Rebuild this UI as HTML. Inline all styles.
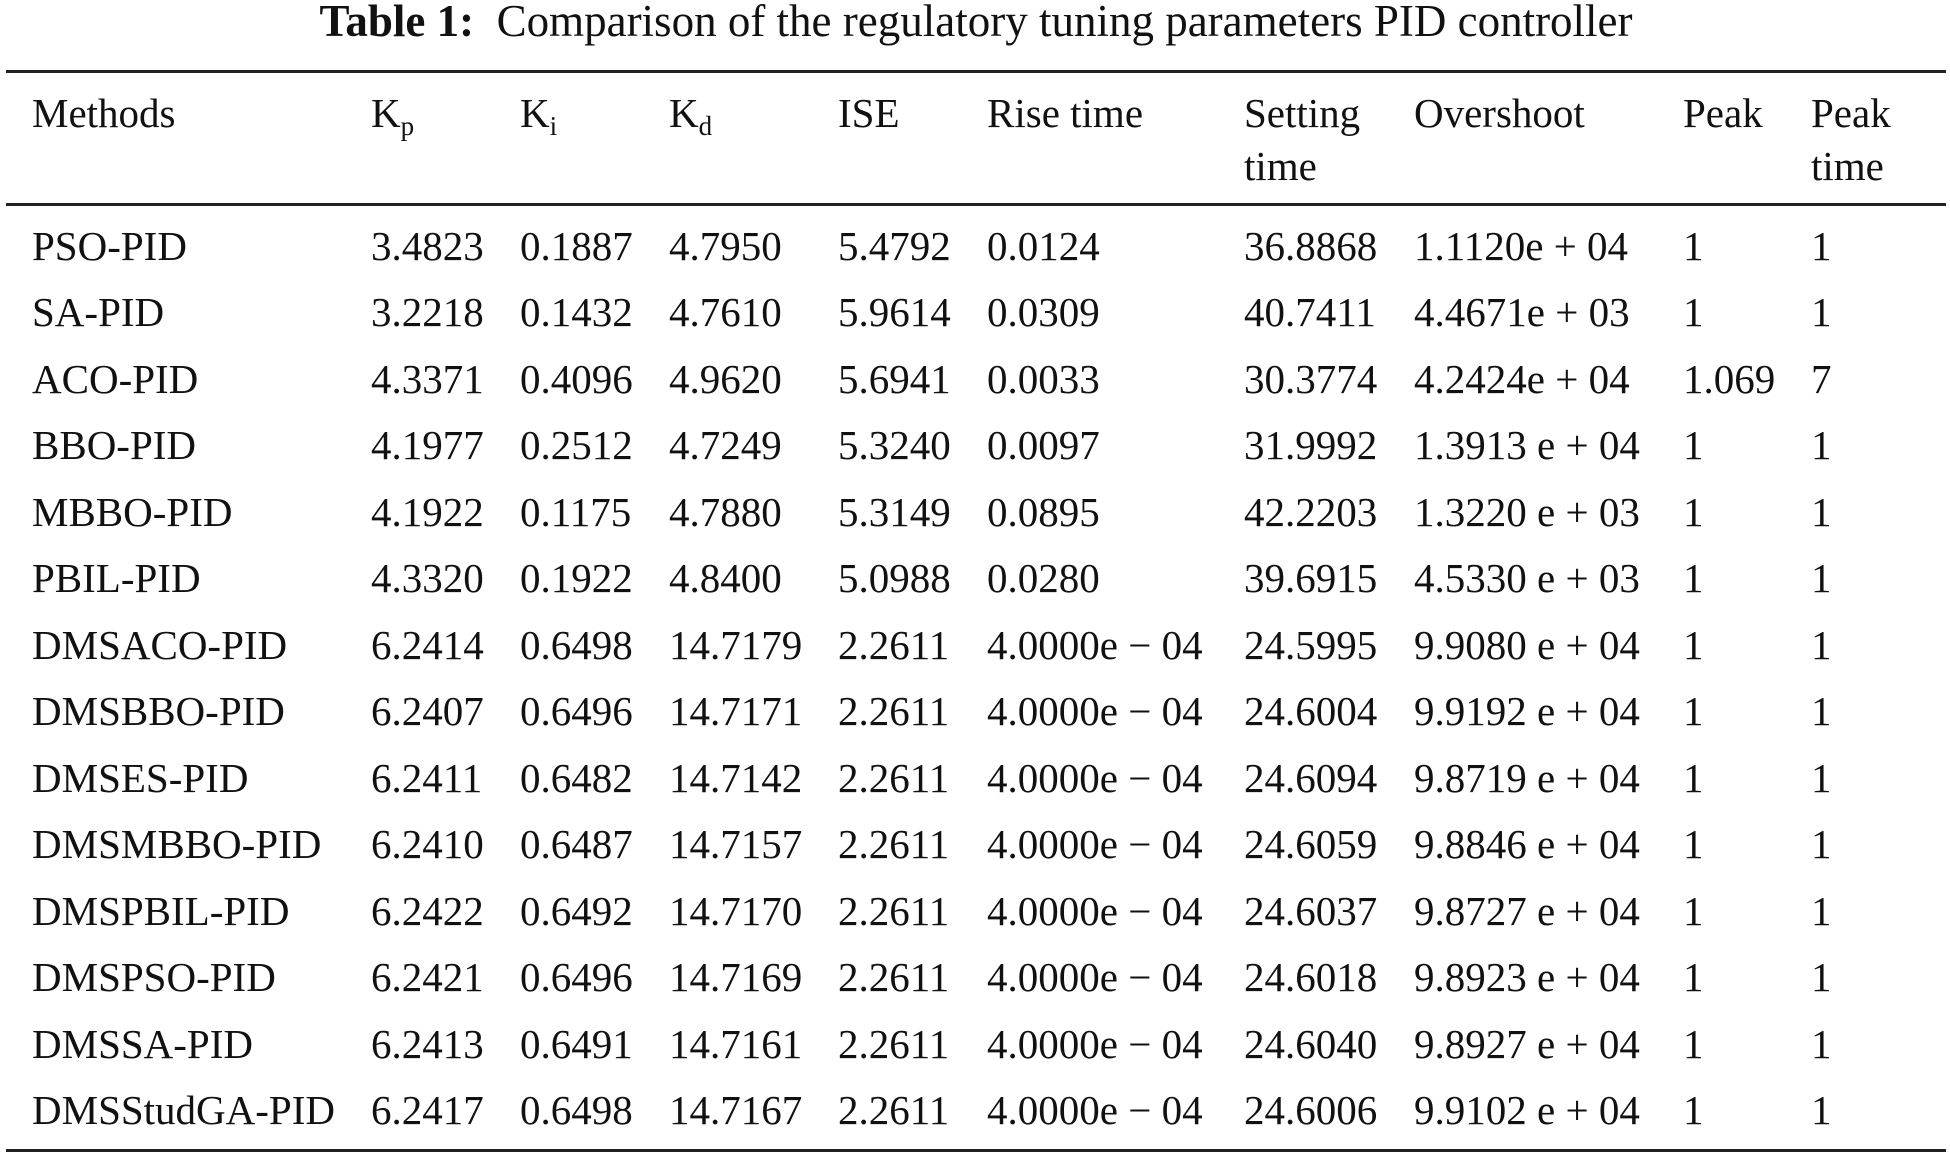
<!DOCTYPE html>
<html><head><meta charset="utf-8">
<style>
html,body{margin:0;padding:0;background:#fff;}
body{width:1950px;height:1158px;position:relative;overflow:hidden;font-family:"Liberation Serif",serif;color:#111;}
.t{position:absolute;white-space:nowrap;font-size:41px;line-height:40px;}
.r{position:absolute;left:6px;width:1940px;height:3px;background:#222;}
sub{font-size:27px;vertical-align:-8px;line-height:0;}
</style></head><body>
<div class="t" style="left:0;width:1952px;text-align:center;top:0px;font-size:45px;line-height:42px;"><b>Table 1:</b>&nbsp; Comparison of the regulatory tuning parameters PID controller</div>
<div class="r" style="top:70px"></div>
<div class="r" style="top:203px"></div>
<div class="r" style="top:1149px"></div>

<div class="t" style="left:32px;top:93px">Methods</div>
<div class="t" style="left:371px;top:93px">K<sub>p</sub></div>
<div class="t" style="left:520px;top:93px">K<sub>i</sub></div>
<div class="t" style="left:669px;top:93px">K<sub>d</sub></div>
<div class="t" style="left:838px;top:93px">ISE</div>
<div class="t" style="left:987px;top:93px">Rise time</div>
<div class="t" style="left:1244px;top:93px">Setting</div>
<div class="t" style="left:1244px;top:146px">time</div>
<div class="t" style="left:1414px;top:93px">Overshoot</div>
<div class="t" style="left:1683px;top:93px">Peak</div>
<div class="t" style="left:1811px;top:93px">Peak</div>
<div class="t" style="left:1811px;top:146px">time</div>

<div style="position:absolute;left:0;top:226px;">
<div class="t" style="top:0px;left:32px">PSO-PID</div><div class="t" style="top:0px;left:371px">3.4823</div><div class="t" style="top:0px;left:520px">0.1887</div><div class="t" style="top:0px;left:669px">4.7950</div><div class="t" style="top:0px;left:838px">5.4792</div><div class="t" style="top:0px;left:987px">0.0124</div><div class="t" style="top:0px;left:1244px">36.8868</div><div class="t" style="top:0px;left:1414px">1.1120e + 04</div><div class="t" style="top:0px;left:1683px">1</div><div class="t" style="top:0px;left:1811px">1</div>
<div class="t" style="top:66px;left:32px">SA-PID</div><div class="t" style="top:66px;left:371px">3.2218</div><div class="t" style="top:66px;left:520px">0.1432</div><div class="t" style="top:66px;left:669px">4.7610</div><div class="t" style="top:66px;left:838px">5.9614</div><div class="t" style="top:66px;left:987px">0.0309</div><div class="t" style="top:66px;left:1244px">40.7411</div><div class="t" style="top:66px;left:1414px">4.4671e + 03</div><div class="t" style="top:66px;left:1683px">1</div><div class="t" style="top:66px;left:1811px">1</div>
<div class="t" style="top:133px;left:32px">ACO-PID</div><div class="t" style="top:133px;left:371px">4.3371</div><div class="t" style="top:133px;left:520px">0.4096</div><div class="t" style="top:133px;left:669px">4.9620</div><div class="t" style="top:133px;left:838px">5.6941</div><div class="t" style="top:133px;left:987px">0.0033</div><div class="t" style="top:133px;left:1244px">30.3774</div><div class="t" style="top:133px;left:1414px">4.2424e + 04</div><div class="t" style="top:133px;left:1683px">1.069</div><div class="t" style="top:133px;left:1811px">7</div>
<div class="t" style="top:199px;left:32px">BBO-PID</div><div class="t" style="top:199px;left:371px">4.1977</div><div class="t" style="top:199px;left:520px">0.2512</div><div class="t" style="top:199px;left:669px">4.7249</div><div class="t" style="top:199px;left:838px">5.3240</div><div class="t" style="top:199px;left:987px">0.0097</div><div class="t" style="top:199px;left:1244px">31.9992</div><div class="t" style="top:199px;left:1414px">1.3913 e + 04</div><div class="t" style="top:199px;left:1683px">1</div><div class="t" style="top:199px;left:1811px">1</div>
<div class="t" style="top:266px;left:32px">MBBO-PID</div><div class="t" style="top:266px;left:371px">4.1922</div><div class="t" style="top:266px;left:520px">0.1175</div><div class="t" style="top:266px;left:669px">4.7880</div><div class="t" style="top:266px;left:838px">5.3149</div><div class="t" style="top:266px;left:987px">0.0895</div><div class="t" style="top:266px;left:1244px">42.2203</div><div class="t" style="top:266px;left:1414px">1.3220 e + 03</div><div class="t" style="top:266px;left:1683px">1</div><div class="t" style="top:266px;left:1811px">1</div>
<div class="t" style="top:332px;left:32px">PBIL-PID</div><div class="t" style="top:332px;left:371px">4.3320</div><div class="t" style="top:332px;left:520px">0.1922</div><div class="t" style="top:332px;left:669px">4.8400</div><div class="t" style="top:332px;left:838px">5.0988</div><div class="t" style="top:332px;left:987px">0.0280</div><div class="t" style="top:332px;left:1244px">39.6915</div><div class="t" style="top:332px;left:1414px">4.5330 e + 03</div><div class="t" style="top:332px;left:1683px">1</div><div class="t" style="top:332px;left:1811px">1</div>
<div class="t" style="top:399px;left:32px">DMSACO-PID</div><div class="t" style="top:399px;left:371px">6.2414</div><div class="t" style="top:399px;left:520px">0.6498</div><div class="t" style="top:399px;left:669px">14.7179</div><div class="t" style="top:399px;left:838px">2.2611</div><div class="t" style="top:399px;left:987px">4.0000e − 04</div><div class="t" style="top:399px;left:1244px">24.5995</div><div class="t" style="top:399px;left:1414px">9.9080 e + 04</div><div class="t" style="top:399px;left:1683px">1</div><div class="t" style="top:399px;left:1811px">1</div>
<div class="t" style="top:465px;left:32px">DMSBBO-PID</div><div class="t" style="top:465px;left:371px">6.2407</div><div class="t" style="top:465px;left:520px">0.6496</div><div class="t" style="top:465px;left:669px">14.7171</div><div class="t" style="top:465px;left:838px">2.2611</div><div class="t" style="top:465px;left:987px">4.0000e − 04</div><div class="t" style="top:465px;left:1244px">24.6004</div><div class="t" style="top:465px;left:1414px">9.9192 e + 04</div><div class="t" style="top:465px;left:1683px">1</div><div class="t" style="top:465px;left:1811px">1</div>
<div class="t" style="top:532px;left:32px">DMSES-PID</div><div class="t" style="top:532px;left:371px">6.2411</div><div class="t" style="top:532px;left:520px">0.6482</div><div class="t" style="top:532px;left:669px">14.7142</div><div class="t" style="top:532px;left:838px">2.2611</div><div class="t" style="top:532px;left:987px">4.0000e − 04</div><div class="t" style="top:532px;left:1244px">24.6094</div><div class="t" style="top:532px;left:1414px">9.8719 e + 04</div><div class="t" style="top:532px;left:1683px">1</div><div class="t" style="top:532px;left:1811px">1</div>
<div class="t" style="top:598px;left:32px">DMSMBBO-PID</div><div class="t" style="top:598px;left:371px">6.2410</div><div class="t" style="top:598px;left:520px">0.6487</div><div class="t" style="top:598px;left:669px">14.7157</div><div class="t" style="top:598px;left:838px">2.2611</div><div class="t" style="top:598px;left:987px">4.0000e − 04</div><div class="t" style="top:598px;left:1244px">24.6059</div><div class="t" style="top:598px;left:1414px">9.8846 e + 04</div><div class="t" style="top:598px;left:1683px">1</div><div class="t" style="top:598px;left:1811px">1</div>
<div class="t" style="top:665px;left:32px">DMSPBIL-PID</div><div class="t" style="top:665px;left:371px">6.2422</div><div class="t" style="top:665px;left:520px">0.6492</div><div class="t" style="top:665px;left:669px">14.7170</div><div class="t" style="top:665px;left:838px">2.2611</div><div class="t" style="top:665px;left:987px">4.0000e − 04</div><div class="t" style="top:665px;left:1244px">24.6037</div><div class="t" style="top:665px;left:1414px">9.8727 e + 04</div><div class="t" style="top:665px;left:1683px">1</div><div class="t" style="top:665px;left:1811px">1</div>
<div class="t" style="top:731px;left:32px">DMSPSO-PID</div><div class="t" style="top:731px;left:371px">6.2421</div><div class="t" style="top:731px;left:520px">0.6496</div><div class="t" style="top:731px;left:669px">14.7169</div><div class="t" style="top:731px;left:838px">2.2611</div><div class="t" style="top:731px;left:987px">4.0000e − 04</div><div class="t" style="top:731px;left:1244px">24.6018</div><div class="t" style="top:731px;left:1414px">9.8923 e + 04</div><div class="t" style="top:731px;left:1683px">1</div><div class="t" style="top:731px;left:1811px">1</div>
<div class="t" style="top:798px;left:32px">DMSSA-PID</div><div class="t" style="top:798px;left:371px">6.2413</div><div class="t" style="top:798px;left:520px">0.6491</div><div class="t" style="top:798px;left:669px">14.7161</div><div class="t" style="top:798px;left:838px">2.2611</div><div class="t" style="top:798px;left:987px">4.0000e − 04</div><div class="t" style="top:798px;left:1244px">24.6040</div><div class="t" style="top:798px;left:1414px">9.8927 e + 04</div><div class="t" style="top:798px;left:1683px">1</div><div class="t" style="top:798px;left:1811px">1</div>
<div class="t" style="top:864px;left:32px">DMSStudGA-PID</div><div class="t" style="top:864px;left:371px">6.2417</div><div class="t" style="top:864px;left:520px">0.6498</div><div class="t" style="top:864px;left:669px">14.7167</div><div class="t" style="top:864px;left:838px">2.2611</div><div class="t" style="top:864px;left:987px">4.0000e − 04</div><div class="t" style="top:864px;left:1244px">24.6006</div><div class="t" style="top:864px;left:1414px">9.9102 e + 04</div><div class="t" style="top:864px;left:1683px">1</div><div class="t" style="top:864px;left:1811px">1</div>
</div>
</body></html>
